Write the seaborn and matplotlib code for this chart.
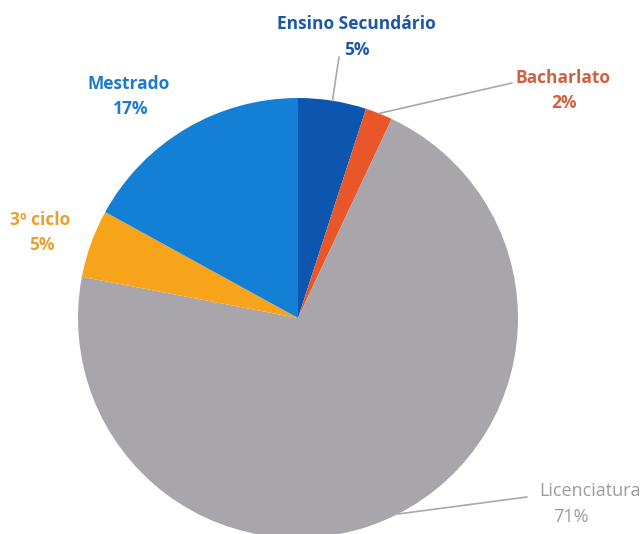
import numpy as np
import matplotlib
matplotlib.use("Agg")
import matplotlib.pyplot as plt
import seaborn as sns

categories = ["Ensino Secundário", "Bacharlato", "Licenciatura", "3º ciclo", "Mestrado"]
values = [5, 2, 71, 5, 17]
pct_labels = ["5%", "2%", "71%", "5%", "17%"]

wedge_colors = ["#0d56b0", "#e8562a", "#a9a6ab", "#f7a41b", "#1380d6"]
text_colors = ["#1d57a6", "#cf6040", "#9c9c9c", "#e9a031", "#1e7bcc"]
weights = ["bold", "bold", "normal", "bold", "bold"]
sizes = [12.5, 12.5, 13, 12.5, 12.5]

sns.set_theme(style="white")
plt.rcParams["font.family"] = ["Open Sans", "DejaVu Sans"]

W, H = 644, 534
fig = plt.figure(figsize=(W / 100, H / 100), dpi=100)
ax = fig.add_axes([0, 0, 1, 1])

cx, cy, R = 298, H - 318, 220
wedges, _ = ax.pie(values, colors=wedge_colors, startangle=90, counterclock=False,
                   center=(cx, cy), radius=R, frame=True,
                   wedgeprops=dict(linewidth=0))
ax.set_xlim(0, W)
ax.set_ylim(0, H)
ax.axis("off")

# label layout (pixel positions, top-left origin)
name_pos = [(356, 24), (563, 78), (590, 491), (40, 220), (129, 84)]
pct_pos = [(357, 50), (564, 103), (571, 517), (42, 245), (131, 109)]
line_end = [(339, 57), (512, 83), (527, 497), None, None]

for i, w in enumerate(wedges):
    nx, ny = name_pos[i]
    px, py = pct_pos[i]
    ax.text(nx, H - ny, categories[i], ha="center", va="center", fontsize=sizes[i],
            color=text_colors[i], fontweight=weights[i])
    ax.text(px, H - py, pct_labels[i], ha="center", va="center", fontsize=sizes[i],
            color=text_colors[i], fontweight=weights[i])
    if line_end[i] is not None:
        mid = np.deg2rad((w.theta1 + w.theta2) / 2)
        sx, sy = cx + R * np.cos(mid), cy + R * np.sin(mid)
        ex, ey = line_end[i]
        ax.plot([sx, ex], [sy, H - ey], color="#a8a8a8", lw=1.2, zorder=3)

fig.savefig("out.png", dpi=100)
